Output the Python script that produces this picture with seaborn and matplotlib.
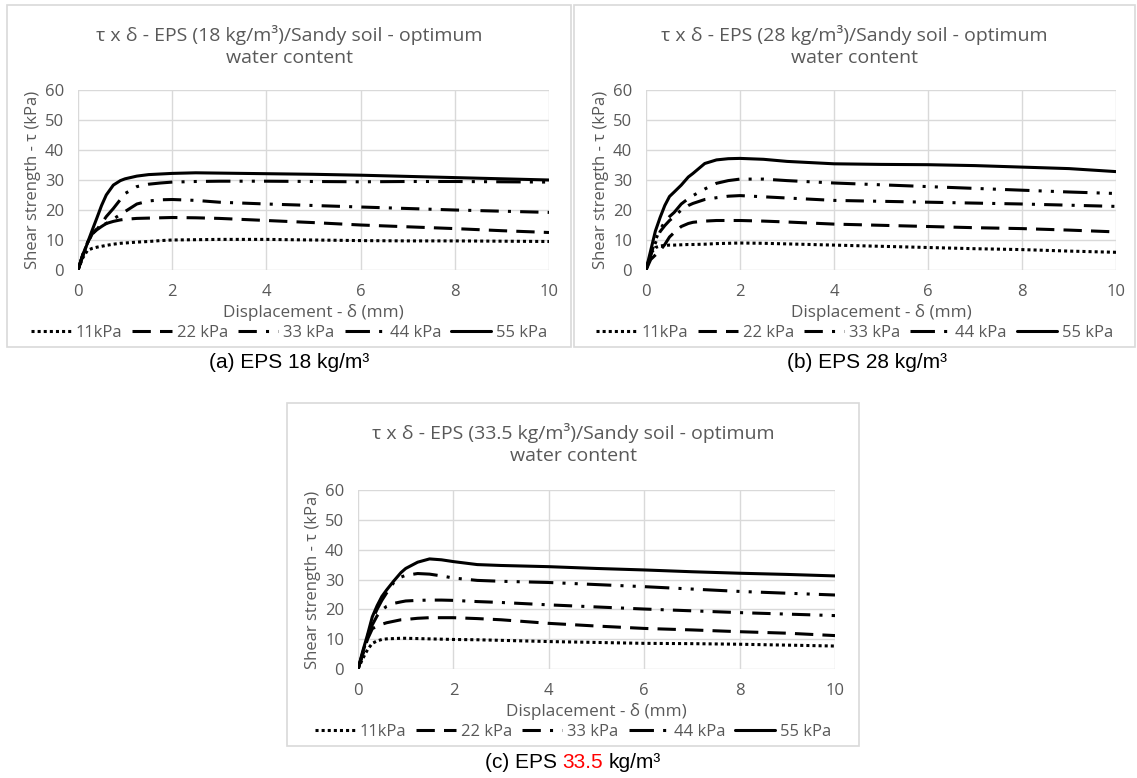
import matplotlib
matplotlib.use("Agg")
import matplotlib.pyplot as plt
import seaborn as sns
import pandas as pd
from matplotlib.patches import Rectangle

# displacement (mm) at which values were read
disp = [0, 0.1, 0.2, 0.3, 0.4, 0.5, 0.6, 0.75, 0.9, 1, 1.25, 1.5, 1.75, 2, 2.5, 3, 4, 5, 6, 7, 8, 9, 10]
loads = ["11kPa", "22 kPa", "33 kPa", "44 kPa", "55 kPa"]

# (a) EPS 18 kg/m3
eps18_11 = [0, 4, 6.5, 7.2, 7.6, 7.9, 8.2, 8.6, 8.9, 9.0, 9.3, 9.5, 9.8, 10.0, 10.1, 10.2, 10.2, 10.0, 9.8, 9.7, 9.7, 9.6, 9.5]
eps18_22 = [0, 5, 9, 12, 13.7, 14.8, 15.5, 16.2, 16.7, 16.9, 17.2, 17.3, 17.4, 17.5, 17.4, 17.2, 16.5, 15.8, 15.0, 14.4, 13.8, 13.1, 12.5]
eps18_33 = [0, 5, 9, 12, 13.4, 14.5, 15.5, 17.0, 18.5, 19.5, 22.0, 23.0, 23.4, 23.5, 23.2, 22.6, 22.0, 21.5, 21.0, 20.5, 20.0, 19.6, 19.2]
eps18_44 = [0, 5, 9, 12, 13.5, 15.5, 17.8, 20.5, 23.5, 25.5, 27.8, 28.6, 29.0, 29.3, 29.5, 29.6, 29.6, 29.5, 29.4, 29.5, 29.5, 29.4, 29.3]
eps18_55 = [0, 4.5, 9, 13.2, 17.3, 21.5, 25.0, 28.3, 29.8, 30.4, 31.3, 31.8, 32.0, 32.2, 32.4, 32.3, 32.1, 31.9, 31.6, 31.2, 30.8, 30.4, 30.0]

# (b) EPS 28 kg/m3
eps28_11 = [0, 5.5, 7.5, 8.0, 8.2, 8.3, 8.3, 8.4, 8.5, 8.5, 8.6, 8.8, 8.9, 9.0, 8.9, 8.7, 8.3, 7.9, 7.5, 7.1, 6.8, 6.3, 5.9]
eps28_22 = [0, 3.5, 5.0, 6.5, 8.5, 11.0, 12.5, 14.5, 15.5, 15.9, 16.3, 16.5, 16.5, 16.5, 16.3, 16.0, 15.3, 14.9, 14.5, 14.1, 13.8, 13.3, 12.7]
eps28_33 = [0, 5, 9, 12.8, 14.8, 16.5, 17.8, 20.0, 21.5, 22.2, 23.5, 24.1, 24.6, 24.8, 24.4, 24.0, 23.2, 22.9, 22.6, 22.3, 22.0, 21.6, 21.2]
eps28_44 = [0, 5, 10, 13.5, 16.0, 17.8, 19.2, 22.0, 23.8, 24.8, 27.0, 28.9, 29.8, 30.3, 30.3, 29.8, 29.0, 28.4, 27.8, 27.2, 26.6, 26.0, 25.5]
eps28_55 = [0, 6.5, 13, 17.5, 21.5, 24.5, 26.0, 28.3, 31.0, 32.2, 35.5, 36.7, 37.1, 37.2, 36.9, 36.2, 35.4, 35.2, 35.1, 34.8, 34.3, 33.8, 32.8]

# (c) EPS 33.5 kg/m3
eps335_11 = [0, 3.5, 6.5, 8.6, 9.4, 9.9, 10.1, 10.2, 10.3, 10.3, 10.2, 10.1, 10.0, 9.9, 9.8, 9.6, 9.2, 8.9, 8.6, 8.5, 8.3, 8.0, 7.7]
eps335_22 = [0, 5, 10, 13.5, 14.4, 15.0, 15.5, 16.0, 16.5, 16.6, 17.0, 17.2, 17.2, 17.2, 16.9, 16.5, 15.3, 14.4, 13.6, 13.1, 12.5, 12.0, 11.2]
eps335_33 = [0, 5, 10.5, 14.8, 17.8, 19.8, 21.0, 22.0, 22.5, 22.8, 23.0, 23.1, 23.1, 23.0, 22.6, 22.3, 21.5, 20.8, 20.1, 19.5, 18.9, 18.4, 17.9]
eps335_44 = [0, 5.5, 11, 16.5, 20.0, 23.0, 25.5, 29.0, 30.8, 31.4, 32.0, 31.8, 31.2, 30.5, 29.7, 29.4, 29.0, 28.3, 27.6, 26.8, 26.0, 25.4, 24.8]
eps335_55 = [0, 6, 11.5, 17.5, 21.2, 24.3, 26.5, 29.5, 32.3, 33.7, 35.8, 36.9, 36.6, 36.0, 35.0, 34.7, 34.3, 33.7, 33.2, 32.6, 32.1, 31.7, 31.2]

sns.set_style("white")
plt.rcParams["font.family"] = ["Open Sans", "DejaVu Sans"]

W, H = 1137, 778
fig = plt.figure(figsize=(W / 100, H / 100), dpi=100)

gray = "#595959"
styles = [(0, (1, 1)), (0, (6, 3)), (0, (6, 3, 1, 3)), (0, (8, 3, 1, 3, 1, 3)), "-"]


def px_rect(x0, y0, x1, y1):
    return [x0 / W, 1 - y1 / H, (x1 - x0) / W, (y1 - y0) / H]


def panel(plot_box, frame_box, density, series):
    fx0, fy0, fx1, fy1 = frame_box
    fig.patches.append(Rectangle((fx0 / W, 1 - fy1 / H), (fx1 - fx0) / W, (fy1 - fy0) / H,
                                 transform=fig.transFigure, fill=False,
                                 edgecolor="#d9d9d9", linewidth=1.2))
    ax = fig.add_axes(px_rect(*plot_box))
    df = pd.DataFrame({"disp": disp})
    for name, vals, ls in zip(loads, series, styles):
        df[name] = vals
        sns.lineplot(data=df, x="disp", y=name, ax=ax, color="black",
                     linestyle=ls, linewidth=2.2, label=name)
    ax.set_xlim(0, 10)
    ax.set_ylim(0, 60)
    ax.set_xticks(range(0, 11, 2))
    ax.set_yticks(range(0, 61, 10))
    ax.grid(True, color="#d9d9d9", linewidth=1)
    for s in ax.spines.values():
        s.set_visible(False)
    ax.tick_params(length=0, colors=gray, labelsize=12)
    ax.tick_params(axis="y", pad=10)
    ax.tick_params(axis="x", pad=10)
    ax.set_xlabel("Displacement - δ (mm)", color=gray, fontsize=12.3, labelpad=3)
    ax.set_ylabel("Shear strength - τ (kPa)", color=gray, fontsize=12, labelpad=3)
    ax.get_legend().remove()

    cx = (fx0 + fx1) / 2
    fig.text(cx / W, 1 - (fy0 + 41) / H,
             f"τ x δ - EPS ({density} kg/m³)/Sandy soil - optimum\nwater content",
             ha="center", va="center", color=gray, fontsize=14, linespacing=1.35)
    h, l = ax.get_legend_handles_labels()
    fig.legend(h, l, loc="center", bbox_to_anchor=(cx / W, 1 - (fy1 - 14) / H),
               ncol=5, frameon=False, fontsize=12, handlelength=2.4,
               handletextpad=0.3, columnspacing=0.6, labelcolor=gray)
    return ax


panel((78, 90, 549, 270), (7, 5, 571, 347), "18",
      [eps18_11, eps18_22, eps18_33, eps18_44, eps18_55])
panel((646, 90, 1116, 270), (574, 5, 1135, 347), "28",
      [eps28_11, eps28_22, eps28_33, eps28_44, eps28_55])
panel((358, 490, 835, 669), (287, 403, 859, 746), "33.5",
      [eps335_11, eps335_22, eps335_33, eps335_44, eps335_55])

cap = dict(family="Liberation Sans", fontsize=15, va="center", color="black")
fig.text(289 / W, 1 - 362 / H, "(a) EPS 18 kg/m³", ha="center", **cap)
fig.text(867 / W, 1 - 362 / H, "(b) EPS 28 kg/m³", ha="center", **cap)

# caption (c) with the density in red
fig.canvas.draw()
r = fig.canvas.get_renderer()
full = fig.text(0, 0, "(c) EPS 33.5 kg/m³", ha="left", **cap)
part = fig.text(0, 0, "(c) EPS 33.5", ha="left", **cap)
num = fig.text(0, 0, "33.5", ha="left", **cap)
unit = fig.text(0, 0, "kg/m³", ha="left", **cap)
w_full = full.get_window_extent(r).width
w_part = part.get_window_extent(r).width
w_num = num.get_window_extent(r).width
w_unit = unit.get_window_extent(r).width
for t in (full, part, num, unit):
    t.remove()
x0 = 573 - w_full / 2
yc = 1 - 763 / H
fig.text(x0 / W, yc, "(c) EPS", ha="left", **cap)
fig.text((x0 + w_part - w_num) / W, yc, "33.5", ha="left", **{**cap, "color": "#ff0000"})
fig.text((x0 + w_full - w_unit) / W, yc, "kg/m³", ha="left", **cap)

fig.savefig("out.png", dpi=100, facecolor="white")
